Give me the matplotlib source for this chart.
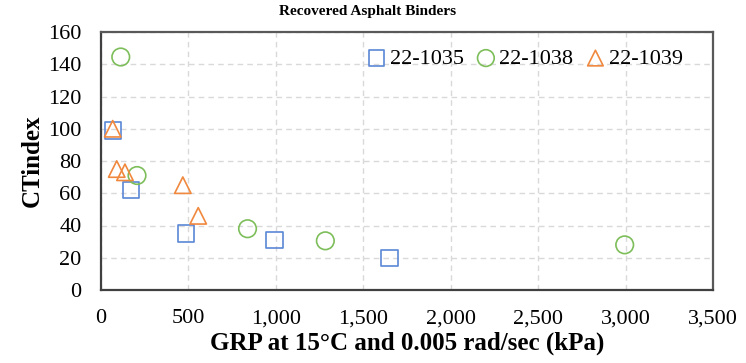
import numpy as np
import matplotlib.pyplot as plt
from matplotlib.ticker import FuncFormatter

# CTindex vs GRP for recovered binders
grp_1035 = [69, 170, 487, 991, 1651]
ct_1035 = [99, 62, 35, 31, 20]

grp_1038 = [113, 206, 838, 1283, 2995]
ct_1038 = [144.5, 71, 38, 30.5, 28]

grp_1039 = [67, 90, 137, 468, 556]
ct_1039 = [100, 75, 73, 65, 46]

plt.rcParams['font.family'] = ['Liberation Serif', 'DejaVu Serif']

fig = plt.figure(figsize=(7.46, 3.63), dpi=100)
ax = fig.add_axes([101 / 746, 1 - 290 / 363, 612 / 746, 258 / 363])

ax.scatter(grp_1035, ct_1035, marker='s', s=140, facecolors='none',
           edgecolors='#5B87D6', linewidths=1.2, label='22-1035', zorder=3)
ax.scatter(grp_1038, ct_1038, marker='o', s=160, facecolors='none',
           edgecolors='#7DBE5A', linewidths=1.2, label='22-1038', zorder=3)
ax.scatter(grp_1039, ct_1039, marker='^', s=140, facecolors='none',
           edgecolors='#F0883E', linewidths=1.2, label='22-1039', zorder=3)

ax.set_xlim(0, 3500)
ax.set_ylim(0, 160)
ax.set_xticks(np.arange(0, 3501, 500))
ax.set_yticks(np.arange(0, 161, 20))
ax.xaxis.set_major_formatter(FuncFormatter(lambda v, p: f'{int(v):,}'))
ax.grid(True, color='#D9D9D9', linestyle=(0, (4, 3)), linewidth=1.0)
ax.set_axisbelow(True)
ax.tick_params(length=0, labelsize=16, colors='black')
ax.tick_params(axis='y', pad=14)
ax.tick_params(axis='x', pad=14)

for side in ['left', 'bottom']:
    ax.spines[side].set_color('#404040')
    ax.spines[side].set_linewidth(1.6)
for side in ['top', 'right']:
    ax.spines[side].set_color('#595959')
    ax.spines[side].set_linewidth(1.6)

ax.set_xlabel('GRP at 15°C and 0.005 rad/sec (kPa)', fontsize=18,
              fontweight='bold', labelpad=2)
ax.set_ylabel('CTindex', fontsize=18, fontweight='bold', labelpad=3)
fig.text(368 / 746, 1 - 11 / 363, 'Recovered Asphalt Binders', ha='center',
         va='center', fontsize=11, fontweight='bold')

ax.legend(loc='upper right', bbox_to_anchor=(0.976, 0.997), ncol=3, frameon=False,
          fontsize=16, handlelength=0.8, handletextpad=0.2, columnspacing=0.6,
          markerscale=0.95, borderaxespad=0.3)

fig.savefig('out.png', dpi=100)
